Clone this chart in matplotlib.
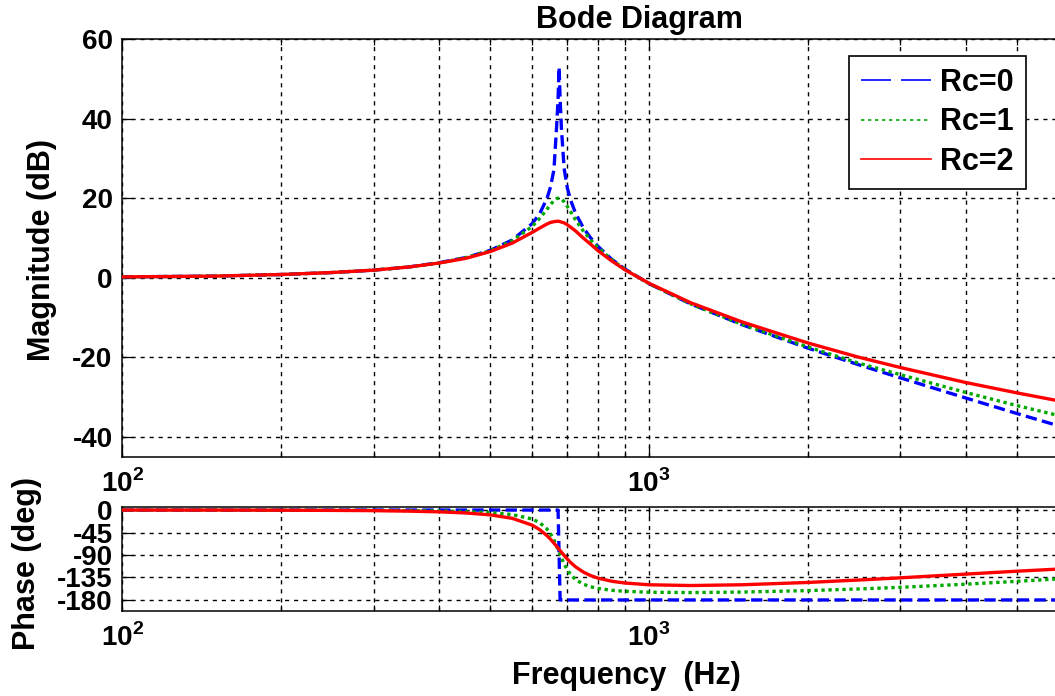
import numpy as np
import matplotlib
matplotlib.use('Agg')
import matplotlib.pyplot as plt
from matplotlib.lines import Line2D
from matplotlib.ticker import LogLocator, FixedLocator, FuncFormatter, NullFormatter

# frequency points (Hz) and values
freq = [100, 150, 200, 250, 300, 350, 400, 450, 500, 550, 600, 620, 640, 650, 660,
        668, 672, 675, 678, 682, 690, 700, 710, 725, 750, 775, 800, 850, 900, 1000,
        1200, 1500, 2000, 2500, 3000, 4000, 5000, 6000]

mag_rc0 = [0.2, 0.4, 0.8, 1.3, 1.9, 2.7, 3.8, 5.1, 6.9, 9.5, 13.6, 16.1, 19.9, 22.8, 27.2,
           38.5, 45.0, 53.0, 45.0, 37.5, 27.5, 22.5, 19.5, 16.3, 12.6, 10.0, 7.9, 4.6, 2.2, -1.5,
           -6.6, -11.8, -17.7, -21.9, -25.2, -30.3, -34.2, -37.3]
mag_rc1 = [0.2, 0.4, 0.8, 1.3, 1.9, 2.7, 3.7, 5.1, 6.8, 9.3, 12.9, 14.9, 17.2, 18.4, 19.4,
           19.9, 20.0, 20.0, 20.0, 19.8, 19.1, 17.9, 16.6, 14.6, 11.8, 9.5, 7.6, 4.5, 2.1, -1.5,
           -6.6, -11.7, -17.4, -21.5, -24.4, -28.9, -32.2, -34.7]
mag_rc2 = [0.2, 0.4, 0.8, 1.3, 1.9, 2.7, 3.7, 4.9, 6.6, 8.7, 11.4, 12.5, 13.5, 13.9, 14.1,
           14.2, 14.2, 14.2, 14.1, 14.0, 13.8, 13.3, 12.7, 11.8, 10.0, 8.4, 6.8, 4.2, 2.0, -1.4,
           -6.3, -11.1, -16.4, -20.0, -22.6, -26.4, -29.0, -31.0]

ph_rc0 = [0] * 17 + [-90] + [-180] * 20
ph_rc1 = [0, -0.1, -0.2, -0.4, -0.6, -1.1, -1.8, -3.0, -5.1, -9.0, -17.9, -25.2, -37.8, -47.5, -60.2,
          -72.6, -79.2, -84.3, -89.3, -95.8, -107.9, -120.1, -129.3, -138.9, -148.3, -153.6, -156.9,
          -160.7, -162.7, -164.5, -165.2, -164.2, -161.3, -158.0, -154.7, -148.4, -142.7, -137.7]
ph_rc2 = [0, -0.1, -0.3, -0.7, -1.2, -2.2, -3.6, -5.9, -9.7, -16.6, -30.2, -39.2, -51.2, -58.4, -66.3,
          -72.9, -76.2, -78.7, -81.2, -84.4, -90.8, -98.3, -105.0, -113.5, -124.0, -131.3, -136.3,
          -142.6, -146.1, -149.6, -151.1, -149.6, -145.0, -140.1, -135.7, -128.2, -122.4, -118.1]

labels = ['Rc=0', 'Rc=1', 'Rc=2']
mag_ticks = [-40, -20, 0, 20, 40, 60]
ph_ticks = [0, -45, -90, -135, -180]

plt.rcParams['font.family'] = ['Liberation Sans', 'DejaVu Sans']
plt.rcParams['font.weight'] = 'bold'
plt.rcParams['axes.unicode_minus'] = False
plt.rcParams['mathtext.fontset'] = 'custom'
plt.rcParams['mathtext.rm'] = 'Liberation Sans'
plt.rcParams['mathtext.bf'] = 'Liberation Sans:bold'

W, H = 1055, 696
fig = plt.figure(figsize=(W / 100, H / 100), dpi=100)

left = 122.3
right = 1175.7  # axes run to 1e4, past the cropped image edge
ax_mag = fig.add_axes([left / W, 1 - 456.5 / H, (right - left) / W, (456.5 - 39.3) / H])
ax_ph = fig.add_axes([left / W, 1 - 610.7 / H, (right - left) / W, (610.7 - 507.3) / H])

blue, green, red = '#0000ff', '#00a800', '#ff0000'
lw = 2.4

ax_mag.plot(freq, mag_rc0, color=blue, lw=lw, dashes=(3.4, 1.6), zorder=3)
ax_mag.plot(freq, mag_rc1, color=green, lw=lw, dashes=(1, 1.1), zorder=3)
ax_mag.plot(freq, mag_rc2, color=red, lw=lw, zorder=3)

ax_ph.plot(freq, ph_rc0, color=blue, lw=lw, dashes=(3.4, 1.6), zorder=3)
ax_ph.plot(freq, ph_rc1, color=green, lw=lw, dashes=(1, 1.1), zorder=3)
ax_ph.plot(freq, ph_rc2, color=red, lw=lw, zorder=3)


def decade_label(v, pos):
    if v > 5000:
        return ''
    return r'$\mathbf{10}^{\mathrm{%d}}$' % round(np.log10(v))


for ax in (ax_mag, ax_ph):
    ax.set_xscale('log')
    ax.set_xlim(100, 10000)
    ax.xaxis.set_major_locator(LogLocator(base=10))
    ax.xaxis.set_minor_locator(LogLocator(base=10, subs=np.arange(2, 10)))
    ax.xaxis.set_major_formatter(FuncFormatter(decade_label))
    ax.xaxis.set_minor_formatter(NullFormatter())
    ax.grid(True, which='both', axis='x', color='black', lw=1.0, linestyle=(0, (3, 3.5)))
    ax.grid(True, which='major', axis='y', color='black', lw=1.0, linestyle=(0, (3, 3.5)))
    ax.tick_params(which='both', direction='in', top=True, right=True, labelsize=20, width=0.9)
    ax.tick_params(which='major', length=8, pad=7)
    ax.tick_params(which='minor', length=4)
    ax.tick_params(axis='x', pad=9)
    for s in ax.spines.values():
        s.set_linewidth(1.1)

ax_mag.set_ylim(-45, 60)
ax_mag.yaxis.set_major_locator(FixedLocator(mag_ticks))
ax_mag.set_yticklabels([str(t) for t in mag_ticks])

ax_ph.set_ylim(-201.5, 5.5)
ax_ph.yaxis.set_major_locator(FixedLocator(ph_ticks))
ax_ph.set_yticklabels([str(t) for t in ph_ticks])

handles = [Line2D([], [], color=blue, lw=1.2, dashes=(18, 6)),
           Line2D([], [], color=green, lw=1.2, dashes=(2, 2.2)),
           Line2D([], [], color=red, lw=1.2)]
leg = fig.legend(handles, labels, loc='upper right', bbox_to_anchor=(1025.7 / W, 1 - 56 / H),
                 bbox_transform=fig.transFigure, borderaxespad=0, fontsize=22,
                 handlelength=2.3, handletextpad=0.3, labelspacing=0.32, borderpad=0.38,
                 fancybox=False, framealpha=1, edgecolor='black')
leg.get_frame().set_linewidth(1.2)

fig.text(639 / W, 1 - 20 / H, 'Bode Diagram', ha='center', va='center', fontsize=22)
fig.text(626 / W, 1 - 676 / H, 'Frequency  (Hz)', ha='center', va='center', fontsize=22)
fig.text(42 / W, 1 - 250 / H, 'Magnitude (dB)', ha='center', va='center', rotation=90, fontsize=22)
fig.text(27 / W, 1 - 563 / H, 'Phase (deg)', ha='center', va='center', rotation=90, fontsize=22)

fig.savefig('out.png', dpi=100)
